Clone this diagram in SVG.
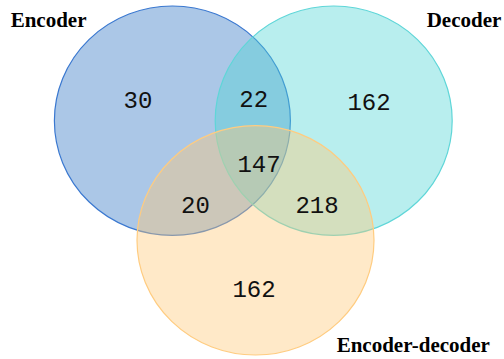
<svg xmlns="http://www.w3.org/2000/svg" width="504" height="359" viewBox="0 0 504 359">
<style>
.set{stroke-width:1.2}
.num{font-family:"Liberation Mono","Courier New",monospace;font-size:24px;fill:#111;text-anchor:middle}
.lbl{font-family:"Liberation Serif","Times New Roman",serif;font-size:21px;font-weight:bold;fill:#000}
</style>
<rect width="504" height="359" fill="#fff"/>
<g id="encoder">
<ellipse class="set" cx="172.4" cy="120.7" rx="118" ry="114.7" fill="rgb(45,115,195)" fill-opacity="0.4" stroke="#3a78d0"/>
</g>
<g id="decoder">
<ellipse class="set" cx="333.7" cy="120.7" rx="118.5" ry="114.7" fill="rgb(77,212,212)" fill-opacity="0.4" stroke="#5fd6d8"/>
</g>
<g id="encoder-decoder">
<ellipse class="set" cx="255.5" cy="240.3" rx="118.5" ry="114.7" fill="rgb(255,200,118)" fill-opacity="0.4" stroke="#ffcc80"/>
</g>
<g id="counts">
<text class="num" x="138" y="107.5">30</text>
<text class="num" x="253.7" y="107">22</text>
<text class="num" x="369" y="110">162</text>
<text class="num" x="259" y="171.5">147</text>
<text class="num" x="195.5" y="213.3">20</text>
<text class="num" x="317" y="213.3">218</text>
<text class="num" x="254" y="296.5">162</text>
</g>
<g id="labels">
<text class="lbl" x="10.7" y="26.5">Encoder</text>
<text class="lbl" x="426.7" y="26.5">Decoder</text>
<text class="lbl" x="336.7" y="351.5">Encoder-decoder</text>
</g>
<g id="connectors"></g>
</svg>
